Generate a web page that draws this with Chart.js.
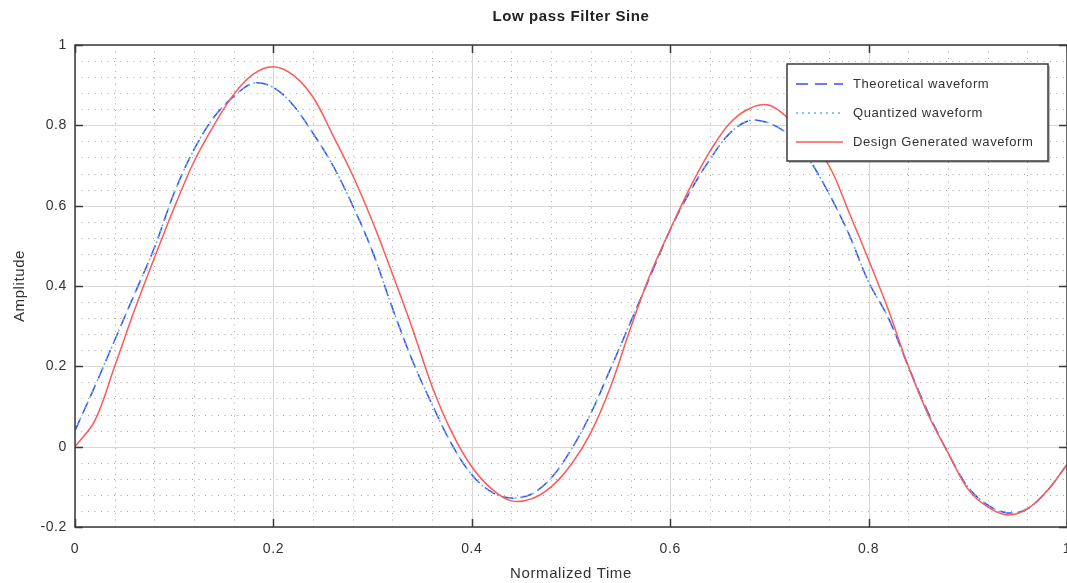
<!DOCTYPE html>
<html lang="en">
<head>
    <meta charset="UTF-8">
    <title>Low pass Filter Sine</title>
    <script src="https://cdn.jsdelivr.net/npm/chart.js@4.4.1/dist/chart.umd.min.js"></script>
    <style>
        html, body { margin: 0; padding: 0; background: #fff; }
        #wrap { width: 1067px; height: 583px; position: relative; }
    </style>
</head>
<body>
    <div id="wrap"><canvas id="lpfChart"></canvas></div>

    <script>
        // normalized time samples (x axis)
        const time = [0, 0.02, 0.04, 0.06, 0.08, 0.10, 0.12, 0.14, 0.16, 0.18,
                      0.20, 0.22, 0.24, 0.26, 0.28, 0.30, 0.32, 0.34, 0.36, 0.38,
                      0.40, 0.42, 0.44, 0.46, 0.48, 0.50, 0.52, 0.54, 0.56, 0.58,
                      0.60, 0.62, 0.64, 0.66, 0.68, 0.70, 0.72, 0.74, 0.76, 0.78,
                      0.80, 0.82, 0.84, 0.86, 0.88, 0.90, 0.92, 0.94, 0.96, 0.98, 1.00];

        const theoretical = [0.04, 0.15, 0.265, 0.38, 0.495, 0.632, 0.74, 0.82, 0.872, 0.905,
                             0.894, 0.85, 0.78, 0.70, 0.60, 0.485, 0.345, 0.215, 0.105, 0.005,
                             -0.07, -0.113, -0.128, -0.118, -0.078, -0.008, 0.083, 0.195, 0.31, 0.425,
                             0.54, 0.635, 0.715, 0.78, 0.812, 0.805, 0.775, 0.715, 0.63, 0.53,
                             0.41, 0.32, 0.2, 0.085, -0.015, -0.1, -0.145, -0.165, -0.155, -0.11, -0.045];

        const quantized = [0.04, 0.15, 0.265, 0.38, 0.495, 0.632, 0.74, 0.82, 0.872, 0.905,
                           0.894, 0.85, 0.78, 0.70, 0.60, 0.485, 0.345, 0.215, 0.105, 0.005,
                           -0.07, -0.113, -0.128, -0.118, -0.078, -0.008, 0.083, 0.195, 0.31, 0.425,
                           0.54, 0.635, 0.715, 0.78, 0.812, 0.805, 0.775, 0.715, 0.63, 0.53,
                           0.41, 0.32, 0.2, 0.085, -0.015, -0.1, -0.145, -0.165, -0.155, -0.11, -0.045];

        const designGenerated = [0, 0.065, 0.2, 0.34, 0.47, 0.595, 0.71, 0.80, 0.877, 0.928,
                                 0.946, 0.925, 0.87, 0.775, 0.675, 0.56, 0.43, 0.295, 0.15, 0.035,
                                 -0.05, -0.105, -0.135, -0.13, -0.10, -0.045, 0.035, 0.15, 0.295, 0.43,
                                 0.541, 0.645, 0.735, 0.805, 0.842, 0.85, 0.815, 0.76, 0.70, 0.585,
                                 0.465, 0.34, 0.20, 0.08, -0.015, -0.105, -0.15, -0.17, -0.155, -0.11, -0.044];

        const xTicks = [0, 0.2, 0.4, 0.6, 0.8, 1];
        const yTicks = [-0.2, 0, 0.2, 0.4, 0.6, 0.8, 1];
        const legendLabels = ['Theoretical waveform', 'Quantized waveform', 'Design Generated waveform'];

        const textColor = '#333';
        const family = "'Liberation Sans', Arial, sans-serif";

        function pts(ys) {
            return time.map((t, i) => ({ x: t, y: ys[i] }));
        }

        // grid (major solid, minor dotted), frame with inward ticks, boxed legend
        const framePlugin = {
            id: 'frame',
            beforeDraw(chart) {
                chart.ctx.letterSpacing = '0.6px';
            },
            beforeDatasetsDraw(chart) {
                const { ctx, chartArea: a, scales: { x, y } } = chart;
                ctx.save();
                ctx.lineWidth = 1;
                // minor dotted lines every 0.04
                ctx.strokeStyle = '#a8a8a8';
                ctx.setLineDash([1, 5.5]);
                for (let i = 1; i < 25; i++) {
                    if (i % 5 === 0) continue;
                    const px = Math.round(x.getPixelForValue(i * 0.04)) + 0.5;
                    ctx.beginPath(); ctx.moveTo(px, a.bottom); ctx.lineTo(px, a.top); ctx.stroke();
                }
                for (let i = 1; i < 30; i++) {
                    if (i % 5 === 0) continue;
                    const py = Math.round(y.getPixelForValue(-0.2 + i * 0.04)) + 0.5;
                    ctx.beginPath(); ctx.moveTo(a.left, py); ctx.lineTo(a.right, py); ctx.stroke();
                }
                // major solid lines
                ctx.setLineDash([]);
                ctx.strokeStyle = '#d6d6d6';
                xTicks.forEach(v => {
                    const px = Math.round(x.getPixelForValue(v)) + 0.5;
                    ctx.beginPath(); ctx.moveTo(px, a.bottom); ctx.lineTo(px, a.top); ctx.stroke();
                });
                yTicks.forEach(v => {
                    const py = Math.round(y.getPixelForValue(v)) + 0.5;
                    ctx.beginPath(); ctx.moveTo(a.left, py); ctx.lineTo(a.right, py); ctx.stroke();
                });
                ctx.restore();
            },
            afterDatasetsDraw(chart) {
                const { ctx, chartArea: a, scales: { x, y } } = chart;
                ctx.save();
                ctx.strokeStyle = '#3a3a3a';
                ctx.lineWidth = 1.5;
                ctx.strokeRect(a.left, a.top, a.right - a.left, a.bottom - a.top);
                const tl = 8;
                xTicks.forEach(v => {
                    const px = Math.round(x.getPixelForValue(v)) + 0.5;
                    ctx.beginPath();
                    ctx.moveTo(px, a.bottom); ctx.lineTo(px, a.bottom - tl);
                    ctx.moveTo(px, a.top); ctx.lineTo(px, a.top + tl);
                    ctx.stroke();
                });
                yTicks.forEach(v => {
                    const py = Math.round(y.getPixelForValue(v)) + 0.5;
                    ctx.beginPath();
                    ctx.moveTo(a.left, py); ctx.lineTo(a.left + tl, py);
                    ctx.moveTo(a.right, py); ctx.lineTo(a.right - tl, py);
                    ctx.stroke();
                });
                ctx.restore();
            },
            afterDraw(chart) {
                const ctx = chart.ctx;
                const ds = chart.data.datasets;
                const bx = 787, by = 64, bw = 261, bh = 97;
                ctx.save();
                ctx.fillStyle = 'rgba(0,0,0,0.25)';
                ctx.fillRect(bx + 2, by + 2, bw, bh);
                ctx.fillStyle = '#fff';
                ctx.fillRect(bx, by, bw, bh);
                ctx.strokeStyle = '#3a3a3a';
                ctx.lineWidth = 1.5;
                ctx.strokeRect(bx, by, bw, bh);
                ctx.font = '13px ' + family;
                ctx.textBaseline = 'middle';
                legendLabels.forEach((label, i) => {
                    const ly = by + 20 + i * 29;
                    ctx.strokeStyle = ds[i].borderColor;
                    ctx.lineWidth = 1.5;
                    ctx.setLineDash(ds[i].borderDash || []);
                    ctx.beginPath(); ctx.moveTo(bx + 9, ly); ctx.lineTo(bx + 56, ly); ctx.stroke();
                    ctx.setLineDash([]);
                    ctx.fillStyle = textColor;
                    ctx.fillText(label, bx + 66, ly);
                });
                ctx.restore();
            }
        };

        const ctx = document.getElementById('lpfChart').getContext('2d');
        const lpfChart = new Chart(ctx, {
            type: 'line',
            data: {
                datasets: [{
                    label: legendLabels[0],
                    data: pts(theoretical),
                    borderColor: 'rgb(58,78,245)',
                    borderDash: [12, 7],
                    borderWidth: 1.5,
                    order: 3
                }, {
                    label: legendLabels[1],
                    data: pts(quantized),
                    borderColor: 'rgb(95,175,240)',
                    borderDash: [2, 4],
                    borderWidth: 1.5,
                    order: 2
                }, {
                    label: legendLabels[2],
                    data: pts(designGenerated),
                    borderColor: 'rgb(255,88,88)',
                    borderWidth: 1.5,
                    order: 1
                }]
            },
            options: {
                responsive: true,
                maintainAspectRatio: false,
                animation: false,
                devicePixelRatio: 1,
                layout: { padding: 0 },
                elements: {
                    point: { radius: 0 },
                    line: { tension: 0.35, fill: false }
                },
                plugins: {
                    legend: { display: false },
                    tooltip: { enabled: false },
                    title: {
                        display: true,
                        fullSize: false,
                        text: 'Low pass Filter Sine',
                        color: '#222',
                        font: { family: family, size: 15, weight: 'bold', lineHeight: 1.2 },
                        padding: { top: 8, bottom: 19 }
                    }
                },
                scales: {
                    x: {
                        type: 'linear',
                        min: 0,
                        max: 1,
                        grid: { display: false },
                        border: { display: false },
                        afterBuildTicks: s => { s.ticks = xTicks.map(v => ({ value: v })); },
                        ticks: {
                            color: textColor,
                            padding: 6,
                            maxRotation: 0,
                            font: { family: family, size: 14 },
                            callback: v => String(+v.toFixed(2))
                        },
                        title: {
                            display: true,
                            text: 'Normalized Time',
                            color: textColor,
                            font: { family: family, size: 15, lineHeight: 1.2 },
                            padding: { top: 4, bottom: 0 }
                        },
                        afterFit: s => { s.height = 56; s.paddingLeft = 0; s.paddingRight = 0; }
                    },
                    y: {
                        min: -0.2,
                        max: 1,
                        grid: { display: false },
                        border: { display: false },
                        afterBuildTicks: s => { s.ticks = yTicks.map(v => ({ value: v })); },
                        ticks: {
                            color: textColor,
                            padding: 0,
                            font: { family: family, size: 14 },
                            callback: v => String(+v.toFixed(2))
                        },
                        title: {
                            display: true,
                            text: 'Amplitude',
                            color: textColor,
                            font: { family: family, size: 15, lineHeight: 1.2 },
                            padding: { top: 11, bottom: 0 }
                        },
                        afterFit: s => { s.width = 75; s.paddingTop = 0; s.paddingBottom = 0; }
                    }
                }
            },
            plugins: [framePlugin]
        });
    </script>
</body>
</html>
